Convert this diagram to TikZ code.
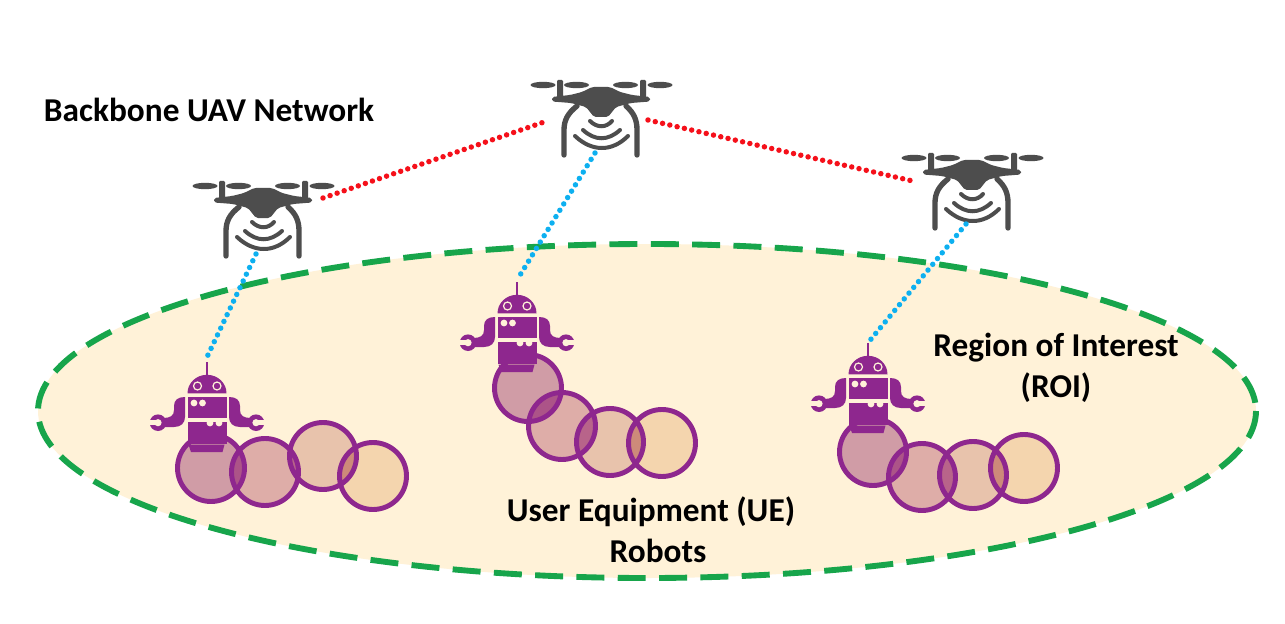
\documentclass[tikz,border=0pt]{standalone}
\usepackage{fontspec}
\setmainfont{Carlito}
\definecolor{dronegray}{HTML}{4D4D4D}
\definecolor{robotpurple}{HTML}{8E278E}
\definecolor{roifill}{HTML}{FFF2D8}
\definecolor{roiline}{HTML}{17A54B}
\definecolor{skyline}{HTML}{0DB0F0}
\definecolor{dotred}{HTML}{F5101A}
\definecolor{ueA}{HTML}{D09CA6}
\definecolor{ueB}{HTML}{DEADA8}
\definecolor{ueC}{HTML}{E8C3AC}
\definecolor{ueD}{HTML}{F4D5AE}
\definecolor{ueAB}{HTML}{AC5488}
\definecolor{ueBC}{HTML}{B8648A}
\definecolor{ueCD}{HTML}{CD8A7A}
\newcommand{\uerad}{33.5}
% four overlapping circles: fills, lens-shaped overlaps, outlines
\newcommand{\uechain}[4]{%
  \fill[ueA] (#1) circle (\uerad);
  \fill[ueB] (#2) circle (\uerad);
  \fill[ueC] (#3) circle (\uerad);
  \fill[ueD] (#4) circle (\uerad);
  \begin{scope}\clip (#1) circle (\uerad); \fill[ueAB] (#2) circle (\uerad);\end{scope}
  \begin{scope}\clip (#2) circle (\uerad); \fill[ueBC] (#3) circle (\uerad);\end{scope}
  \begin{scope}\clip (#3) circle (\uerad); \fill[ueCD] (#4) circle (\uerad);\end{scope}
  \draw[ueline] (#1) circle (\uerad) (#2) circle (\uerad) (#3) circle (\uerad) (#4) circle (\uerad);
}
\tikzset{
  roi/.style={draw=roiline,fill=roifill,line width=4.4,dash pattern=on 21 off 10},
  redlink/.style={dotred,line width=4.1,line cap=round,dash pattern=on 0 off 5.6},
  bluelink/.style={skyline,line width=4.1,line cap=round,dash pattern=on 0 off 5.6},
  label/.style={font=\bfseries\fontsize{25}{30.5}\selectfont,align=center,text=black,inner sep=0},
  ueline/.style={draw=robotpurple,line width=3.7},
  pics/drone/.style={code={
    \fill[dronegray,rounded corners=1.5] (-49,-6) -- (-31,-8) -- (-19,-11) -- (-9,-16) -- (9,-16) -- (19,-11) -- (31,-8) -- (49,-6) -- (49,-1.5) -- (30,0)
      -- (15,4) -- (7,14) -- (-7,14) -- (-15,4) -- (-30,0) -- (-49,-1.5) -- cycle;
    \fill[dronegray,rounded corners=.8] (-44,-4) -- (-44,-23) -- (-38,-23) -- (-38,-4) -- cycle;
    \fill[dronegray,rounded corners=.8] (39,-4) -- (39,-23) -- (45,-23) -- (45,-4) -- cycle;
    \foreach \c/\r in {-58/12.5,-24.5/12.5,24.5/12.5,59/12.5}
      \fill[dronegray] (\c,-18) ellipse [x radius=\r,y radius=3.2];
    \draw[dronegray,line width=4,line cap=round] (-24,3) .. controls (-33,10) and (-37,17) .. (-37,27) -- (-37,52);
    \draw[dronegray,line width=4,line cap=round] (25,3) .. controls (33,10) and (36,17) .. (36,27) -- (36,52);
    \draw[dronegray,line width=3,line cap=round] (-11,18) .. controls (-4,25) and (5,25) .. (11,18);
    \draw[dronegray,line width=3,line cap=round] (-18,27) .. controls (-6,38) and (7,38) .. (19,27);
    \draw[dronegray,line width=3,line cap=round] (-26,33) .. controls (-9,49) and (11,49) .. (27,33);
  }},
  pics/robot/.style={code={
    \fill[robotpurple] (-1.4,-33) rectangle (1.4,-19);
    \fill[robotpurple] (-19.5,-1.7) arc[start angle=180,end angle=360,x radius=19.5,y radius=18.5] -- cycle;
    \fill[robotpurple] (-19.5,1.7) rectangle (19.5,23.3);
    \fill[robotpurple] (-19.5,26.7) rectangle (19.5,48.5);
    \fill[robotpurple] (-18.5,49.7) -- (17.5,49.7) -- (15.5,57) -- (-16,57) -- cycle;
    \draw[roifill,line width=.9] (-9.5,-9) circle (4) (10,-9) circle (4);
    \fill[roifill] (-13,8) circle (3.4) (-4.5,8) circle (3.4) (3,28) circle (3.4) (12,28) circle (3.4);
    \foreach \s in {-1,1}{
      \begin{scope}[xscale=\s]
        \fill[robotpurple] (22,2) .. controls (29,2) and (33,5) .. (33,11) -- (33,15)
          .. controls (33,21) and (37,23) .. (44,23) -- (46,32) -- (33,32)
          .. controls (26,32) and (22,28) .. (22,22) -- cycle;
        \fill[robotpurple] (49,27.7) circle (8.3);
        \fill[roifill] (49,27.7) circle (3.6);
        \fill[roifill] (49,25) rectangle (59,30.4);
      \end{scope}}
  }},
}
\begin{document}
\begin{tikzpicture}[x=.75pt,y=-.75pt]
\useasboundingbox[fill=white] (0,0) rectangle (1285,624);
\draw[roi] (647,411) ellipse [x radius=609,y radius=167];

\pic at (601,103) {drone};
\pic at (263,204) {drone};
\pic at (972,176) {drone};

\coordinate (redAa) at (323,198);
\coordinate (redAb) at (547,121);
\coordinate (redBa) at (648,120);
\coordinate (redBb) at (917,182);
\draw[redlink] (redAa) -- (redAb);
\draw[redlink] (redBa) -- (redBb);

\coordinate (blueAa) at (256,254);
\coordinate (blueAb) at (207,357);
\coordinate (blueBa) at (595,153);
\coordinate (blueBb) at (517,280);
\coordinate (blueCa) at (966,224);
\coordinate (blueCb) at (867,344);
\draw[bluelink] (blueAa) -- (blueAb);
\draw[bluelink] (blueBa) -- (blueBb);
\draw[bluelink] (blueCa) -- (blueCb);

\uechain{211,468}{265,472}{323,456}{373,476}
\uechain{528,388}{562,426}{610,442}{662,443}
\uechain{873,452}{922,477}{973,475}{1024,468}

\pic at (517,315) {robot};
\pic at (207,395) {robot};
\pic at (868,376) {robot};

\node[label] (backbone) at (209,110) {Backbone UAV Network};
\node[label] (roilabel) at (1056,368) {Region of Interest\\(ROI)};
\node[label] (uelabel) at (651,530) {User Equipment (UE)\\\hspace{10.5pt}Robots};
\end{tikzpicture}
\end{document}
